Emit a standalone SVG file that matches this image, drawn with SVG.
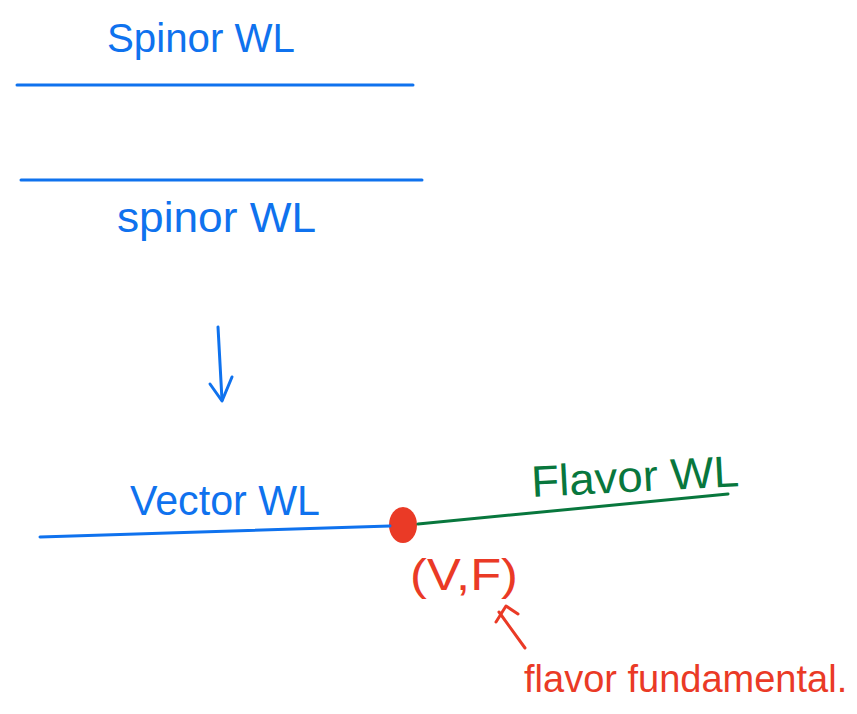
<svg xmlns="http://www.w3.org/2000/svg" width="857" height="714" viewBox="0 0 857 714">
<style>
text{font-family:"Liberation Sans","DejaVu Sans",sans-serif}
.b{fill:#0f72ee}
.g{fill:#08773d}
.r{fill:#ea3a26}
.bl{stroke:#0f72ee;stroke-width:3;fill:none;stroke-linecap:round;stroke-linejoin:round}
.gl{stroke:#08773d;stroke-width:3;fill:none;stroke-linecap:round}
.rl{stroke:#ea3a26;stroke-width:3;fill:none;stroke-linecap:round;stroke-linejoin:round}
</style>
<rect width="857" height="714" fill="#fff"/>
<g id="spinor-top">
<text class="b" x="107" y="52" font-size="40" textLength="188" lengthAdjust="spacingAndGlyphs">Spinor WL</text>
<line class="bl" x1="17" y1="85" x2="413" y2="85"/>
</g>
<g id="spinor-bottom">
<line class="bl" x1="21" y1="180" x2="422" y2="180"/>
<text class="b" x="117" y="232" font-size="42" textLength="199" lengthAdjust="spacingAndGlyphs">spinor WL</text>
</g>
<g id="vector">
<text class="b" x="130" y="515" font-size="42" textLength="190" lengthAdjust="spacingAndGlyphs">Vector WL</text>
</g>
<g id="flavor">
<text class="g" x="532" y="497" font-size="44" textLength="208" lengthAdjust="spacingAndGlyphs" transform="rotate(-3 532 497)">Flavor WL</text>
</g>
<g id="junction">
<ellipse cx="403" cy="525" rx="14" ry="18" fill="#ea3a26"/>
<text class="r" x="410" y="590" font-size="44" textLength="108" lengthAdjust="spacingAndGlyphs">(V,F)</text>
</g>
<g id="note">
<text class="r" x="524" y="692" font-size="38">flavor fundamental.</text>
</g>
<g id="connectors">
<polyline class="bl" points="218,327 222,400"/>
<polyline class="bl" points="210,384 222,401 232,377"/>
<line class="bl" x1="40" y1="537" x2="390" y2="526"/>
<line class="gl" x1="418" y1="524" x2="728" y2="494"/>
<line class="rl" x1="525" y1="648" x2="499" y2="612"/>
<polyline class="rl" points="496,622 506,606 518,614"/>
</g>
</svg>
